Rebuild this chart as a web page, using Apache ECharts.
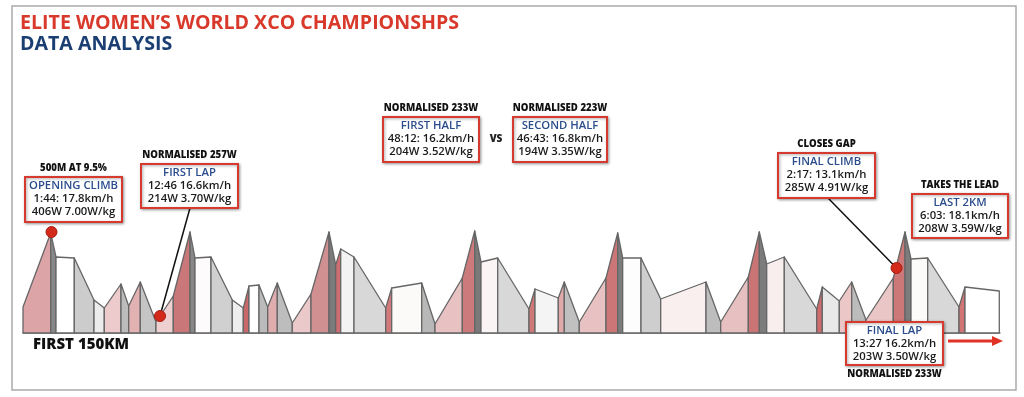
<!DOCTYPE html>
<html>
<head>
<meta charset="utf-8">
<script src="https://cdn.jsdelivr.net/npm/echarts@6/dist/echarts.min.js"></script>
<style>
  html, body { margin: 0; padding: 0; background: #fff; }
  #main { width: 1024px; height: 397px; }
</style>
</head>
<body>
<div id="main"></div>
<script>
// course profile: distance of each break point and relative height there
var profileX = [0, 27.7, 33, 51.3, 71, 81.3, 98, 105.7, 117.3, 133, 150.3, 167, 172, 188, 209.3, 220.3,
    226, 236, 244.7, 254.3, 269.3, 288, 306, 312.7, 317.7, 331, 362.7, 368.7, 398.7, 412, 439.3, 451.7,
    458, 474.7, 506, 512, 535.3, 541.3, 556.3, 583, 594.7, 599.7, 618, 637.7, 683, 697.7, 725.3, 736.3,
    743.7, 761.3, 793.7, 799.3, 816.3, 828.7, 843, 870.3, 882, 888, 904.7, 936, 942, 976.3];
var profileY = [26, 100, 76, 75, 33, 25, 49, 27, 51, 11, 37, 101, 75, 76, 33, 25,
    47, 48, 26, 50, 10, 39, 101, 68, 84, 76, 25, 45, 50, 9, 55, 102,
    71, 75, 24, 44, 35, 51, 11, 55, 100, 75, 75, 34, 51, 11, 56, 101,
    69, 76, 24, 46, 32, 51, 13, 55, 101, 74, 75, 26, 46, 42];
// fill of each segment between two break points
var segColors = ['#dca4a6', '#888888', '#ffffff', '#cccccc', '#ececec', '#edcacb', '#bcbcbc', '#e2b2b3',
    '#c5c5c5', '#efd0d1', '#c97779', '#888888', '#fdfbfb', '#d0d0d0', '#ededed', '#c9686a',
    '#ffffff', '#bbbbbb', '#e0adaf', '#bdbdbd', '#ebc8c9', '#d08f90', '#7b7b7b', '#cf6d6f',
    '#f3f3f3', '#d8d8d8', '#d27a7b', '#fcfaf9', '#b8b8b8', '#e8c1c2', '#cc7a7b', '#7a7a7a',
    '#faf4f4', '#d8d8d8', '#d07778', '#f4f4f4', '#e0aaab', '#c0c0c0', '#e8c2c3', '#cc7677',
    '#7c7c7c', '#fdfdfd', '#cecece', '#f9efef', '#bdbdbd', '#e7c1c1', '#cb7475', '#7c7c7c',
    '#f8eeee', '#d8d8d8', '#d06b6d', '#e8e8e8', '#ebc7c8', '#bcbcbc', '#eac6c7', '#cc7879',
    '#7c7c7c', '#fdfafa', '#d8d8d8', '#d07475', '#ffffff'];
// key points on the course
var dotPoints = [[28.5, 101], [137, 17], [873.5, 65]];

// annotation texts: tag, title, line 1, line 2
var notes = [
    ['500M AT 9.5%', 'OPENING CLIMB', '1:44: 17.8km/h', '406W 7.00W/kg'],
    ['NORMALISED 257W', 'FIRST LAP', '12:46 16.6km/h', '214W 3.70W/kg'],
    ['NORMALISED 233W', 'FIRST HALF', '48:12: 16.2km/h', '204W 3.52W/kg'],
    ['NORMALISED 223W', 'SECOND HALF', '46:43: 16.8km/h', '194W 3.35W/kg'],
    ['CLOSES GAP', 'FINAL CLIMB', '2:17: 13.1km/h', '285W 4.91W/kg'],
    ['TAKES THE LEAD', 'LAST 2KM', '6:03: 18.1km/h', '208W 3.59W/kg'],
    ['NORMALISED 233W', 'FINAL LAP', '13:27 16.2km/h', '203W 3.50W/kg']
];

(function () {

    var myChart = echarts.init(document.getElementById('main'));

    // box layout in pixels: left, top, width, height, tag below?
    var boxLayout = [
        [25, 177, 97, 45, false],
        [141, 164, 97, 44, false],
        [383, 117, 96, 45, false],
        [513, 117, 94, 45, false],
        [778, 153, 97, 45, false],
        [912, 194, 96, 44, false],
        [846, 322, 97, 43, true]
    ];
    // which box points at which dot
    var leaders = [[1, 1, 190, 208], [4, 2, 828, 198]];

    var segData = profileX.slice(0, -1).map(function (x, i) {
        return [x, profileY[i], profileX[i + 1], profileY[i + 1]];
    });

    var font = "'Open Sans', sans-serif";
    var graphic = [];

    graphic.push({
        type: 'rect', shape: { x: 12, y: 6, width: 1004, height: 384 },
        style: { fill: 'none', stroke: '#ababab', lineWidth: 1.5 }, z: 1
    });
    graphic.push({
        type: 'text', x: 20, y: 23,
        style: { text: 'ELITE WOMEN\u2019S WORLD XCO CHAMPIONSHPS', fill: '#d8392b', font: '700 19.6px ' + font, verticalAlign: 'middle' }
    });
    graphic.push({
        type: 'text', x: 20, y: 44,
        style: { text: 'DATA ANALYSIS', fill: '#1b3f73', font: '700 19.6px ' + font, verticalAlign: 'middle' }
    });
    graphic.push({
        type: 'text', x: 33, y: 345,
        style: { text: 'FIRST 150KM', fill: '#111', font: '800 15px ' + font, verticalAlign: 'middle' }
    });
    graphic.push({
        type: 'text', x: 496, y: 139,
        style: { text: 'VS', fill: '#222', font: '800 10px ' + font, align: 'center', verticalAlign: 'middle' }
    });

    notes.forEach(function (n, i) {
        var b = boxLayout[i];
        var cx = b[0] + b[2] / 2;
        graphic.push({
            type: 'rect', z: 20,
            shape: { x: b[0], y: b[1], width: b[2], height: b[3] },
            style: {
                fill: '#fff', stroke: '#d63a2f', lineWidth: 2,
                shadowBlur: 3, shadowColor: 'rgba(0,0,0,0.35)', shadowOffsetX: 1, shadowOffsetY: 1
            }
        });
        var lines = [[n[1], '#2b4d8c', 9], [n[2], '#1a1a1a', 22], [n[3], '#1a1a1a', 34.5]];
        lines.forEach(function (l) {
            graphic.push({
                type: 'text', z: 21, x: cx, y: b[1] + l[2],
                style: { text: l[0], fill: l[1], font: '600 11.3px ' + font, align: 'center', verticalAlign: 'middle' }
            });
        });
        graphic.push({
            type: 'text', z: 21, x: cx, y: b[4] ? b[1] + b[3] + 9 : b[1] - 9,
            style: { text: n[0], fill: '#111', font: '800 9.6px ' + font, align: 'center', verticalAlign: 'middle' }
        });
    });

    // red arrow at the finish
    graphic.push({
        type: 'line', shape: { x1: 948, y1: 341, x2: 994, y2: 341 },
        style: { stroke: '#e03325', lineWidth: 3 }
    });
    graphic.push({
        type: 'polygon', shape: { points: [[992, 336], [1003, 341], [992, 346]] },
        style: { fill: '#e03325' }
    });

    var option = {
        animation: false,
        grid: { left: 23, right: 24, top: 223, bottom: 64 },
        xAxis: {
            type: 'value', min: 0, max: 977,
            axisLine: { show: true, onZero: false, lineStyle: { color: '#808080', width: 1.5 } },
            axisTick: { show: false }, axisLabel: { show: false }, splitLine: { show: false }
        },
        yAxis: {
            type: 'value', min: 0, max: 110, show: false, splitLine: { show: false }
        },
        series: [
            {
                type: 'custom',
                data: segData,
                encode: { x: [0, 2], y: [1, 3] },
                clip: false,
                renderItem: function (params, api) {
                    var x0 = api.value(0), y0 = api.value(1), x1 = api.value(2), y1 = api.value(3);
                    return {
                        type: 'polygon',
                        shape: { points: [api.coord([x0, 0]), api.coord([x0, y0]), api.coord([x1, y1]), api.coord([x1, 0])] },
                        style: { fill: segColors[params.dataIndex], stroke: '#666', lineWidth: 1.3, lineJoin: 'round' }
                    };
                }
            },
            {
                type: 'scatter',
                data: dotPoints,
                symbolSize: 11,
                z: 5,
                clip: false,
                itemStyle: { color: '#d42a1c', borderColor: '#a51d12', borderWidth: 1, opacity: 1 }
            }
        ],
        graphic: graphic
    };

    myChart.setOption(option);

    // leader lines from boxes to their dots
    leaders.forEach(function (l) {
        var p = myChart.convertToPixel({ gridIndex: 0 }, dotPoints[l[1]]);
        graphic.push({
            type: 'line', z: 3,
            shape: { x1: l[2], y1: l[3], x2: p[0], y2: p[1] },
            style: { stroke: '#111', lineWidth: 1.5 }
        });
    });
    myChart.setOption({ graphic: graphic });

})();
</script>
</body>
</html>
